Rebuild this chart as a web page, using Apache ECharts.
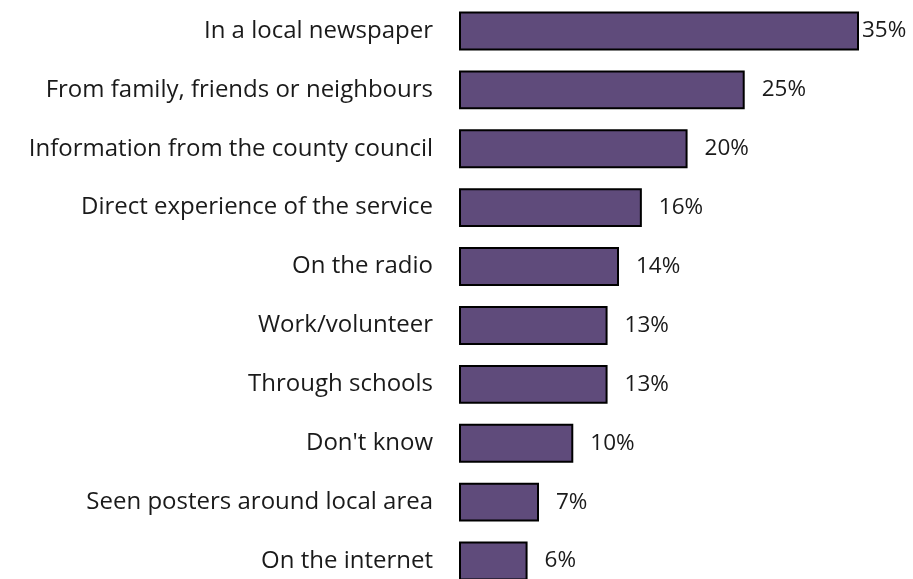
<!DOCTYPE html>
<html>
<head>
<meta charset="utf-8">
<script src="https://cdn.jsdelivr.net/npm/echarts@6/dist/echarts.min.js"></script>
<style>
html,body{margin:0;padding:0;background:#fff;}
#chart{width:913px;height:579px;}
</style>
</head>
<body>
<div id="chart"></div>
<script>
// Where people heard about the service (% of respondents)
const categories = [
  "In a local newspaper",
  "From family, friends or neighbours",
  "Information from the county council",
  "Direct experience of the service",
  "On the radio",
  "Work/volunteer",
  "Through schools",
  "Don't know",
  "Seen posters around local area",
  "On the internet"
];
const values = [35, 25, 20, 16, 14, 13, 13, 10, 7, 6];

const FONT = "'Open Sans', Lato, sans-serif";
const chart = echarts.init(document.getElementById('chart'));

const seriesData = values.map((v, i) => ({
  value: v,
  label: { distance: i === 0 ? 3 : 17 }
}));

chart.setOption({
  animation: false,
  grid: {
    left: 459, top: 1.5, width: 400, height: 589,
    containLabel: false, outerBoundsMode: 'none'
  },
  xAxis: {
    type: 'value', min: 0, max: 35,
    show: false
  },
  yAxis: {
    type: 'category',
    data: categories,
    inverse: true,
    axisLine: { show: false },
    axisTick: { show: false },
    axisLabel: { color: '#1a1a1a', fontFamily: FONT, fontSize: 24, margin: 26 }
  },
  series: [{
    type: 'bar',
    data: seriesData,
    barCategoryGap: '34%',
    itemStyle: { color: '#5f4b7b', borderColor: '#000', borderWidth: 2 },
    label: {
      show: true, position: 'right',
      formatter: '{c}%',
      color: '#1a1a1a', fontFamily: FONT, fontSize: 22.5
    }
  }]
});
</script>
</body>
</html>
